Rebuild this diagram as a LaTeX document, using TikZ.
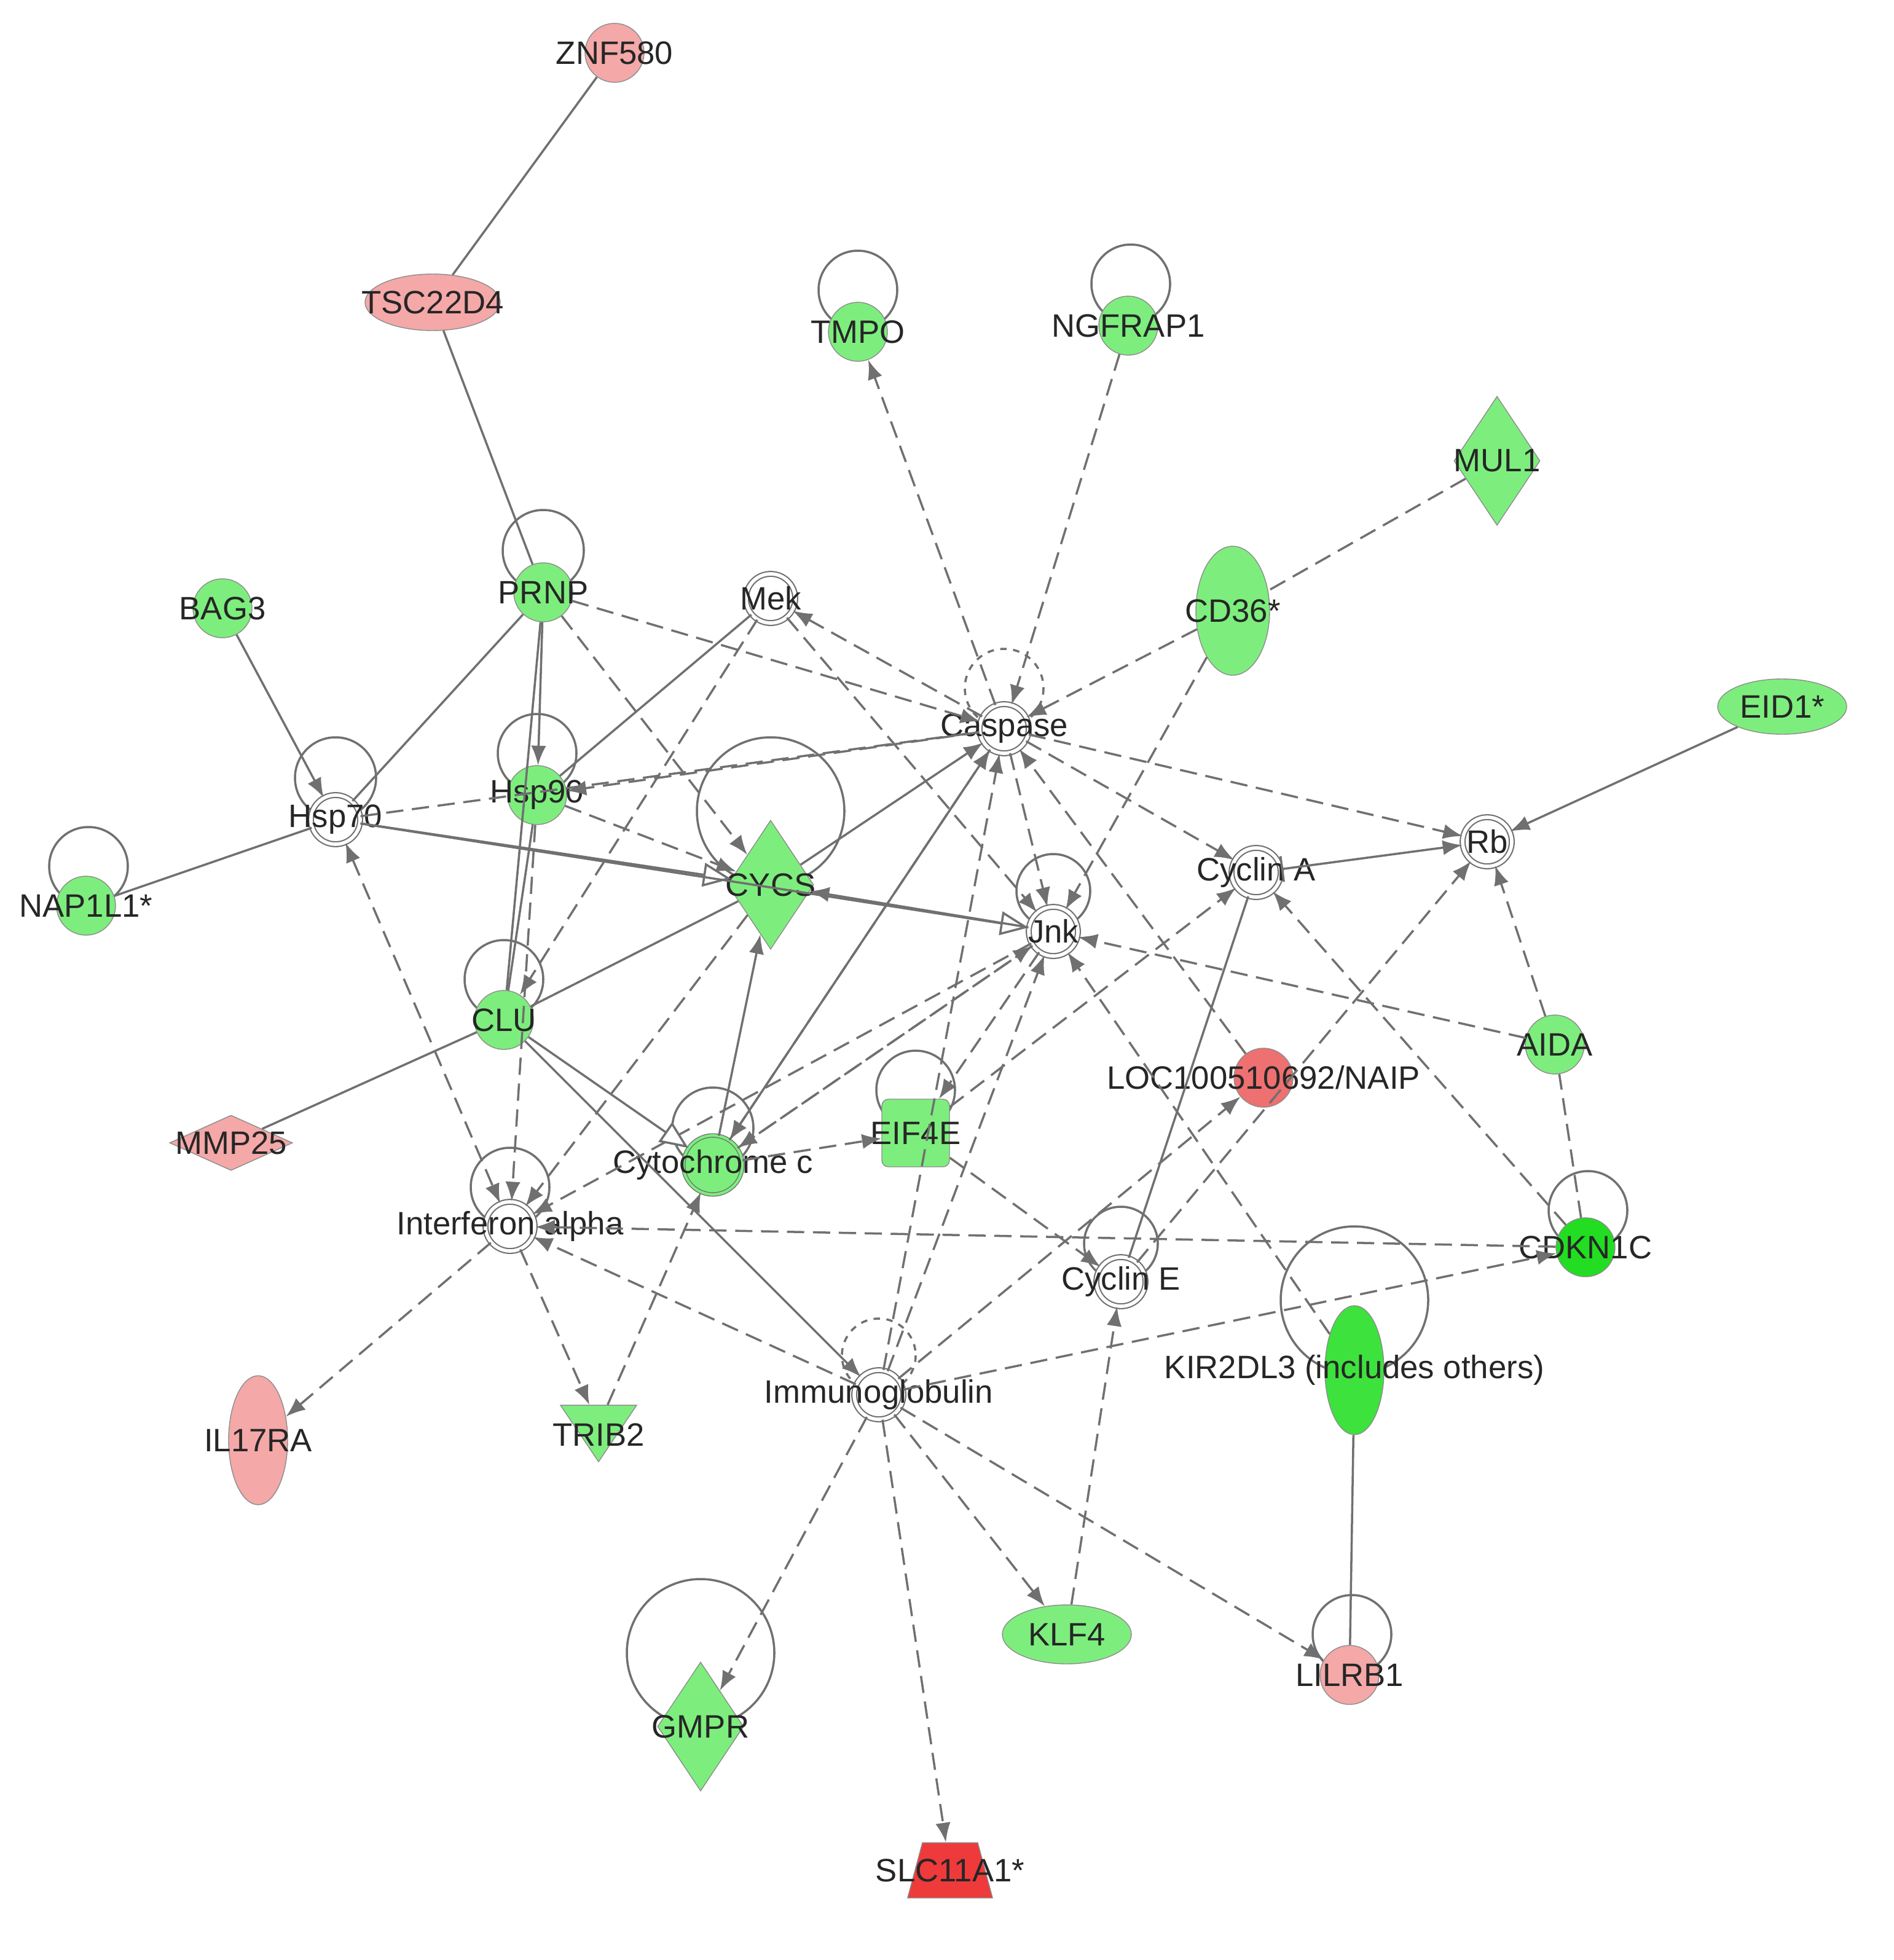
\documentclass[tikz,border=0pt]{standalone}
\usepackage{fontspec}
\setmainfont{Liberation Sans}
\usetikzlibrary{shapes.geometric,arrows.meta}
\definecolor{lg}{HTML}{7DEE7D}
\definecolor{bg}{HTML}{22DD22}
\definecolor{pk}{HTML}{F4A8A8}
\definecolor{rd}{HTML}{EE3A3A}
\definecolor{rs}{HTML}{EE7070}
\definecolor{ec}{HTML}{707070}
\tikzset{
 every node/.style={font=\fontsize{15}{17}\selectfont, text=black!85},
 gn/.style={circle,draw=ec!80,fill=lg,minimum size=0.96cm,inner sep=0pt},
 dc/.style={circle,draw=ec,double=white,double distance=1.6pt,fill=white,minimum size=0.8cm,inner sep=0pt,line width=0.6pt},
 dia/.style={diamond,draw=ec!80,inner sep=0pt,aspect=0.67},
 s/.style={draw=ec,line width=1pt},
 sa/.style={s,-{Latex[length=9pt,width=7pt]}},
 da/.style={s,dashed,dash pattern=on 8pt off 4pt,-{Latex[length=9pt,width=7pt]}},
 dl/.style={s,dashed,dash pattern=on 8pt off 4pt},
 oa/.style={s,-{Triangle[open,fill=white,length=13pt,width=11pt]}},
 lp/.style={draw=ec,line width=1pt},
}
\begin{document}
\begin{tikzpicture}[x=0.02cm,y=-0.02cm]
\useasboundingbox[fill=white] (0,0) rectangle (1540.5,1595);
% self loops
\foreach \x/\y/\r in {698/236/32,920/231/32,442/448/33,437/613/32,273/633/33,72/705/32,410/797/32,627/660/60,580/918/33,857/725/30,745/887/32,415/966/32,912/1012/30,1292/985/32,1102/1058/60,1100/1330/32,570/1345/60}
 \draw[lp] (\x,\y) circle (\r);
\draw[lp,dashed] (817,560) circle (32);
\draw[lp,dashed] (715,1103) circle (30);
% nodes
\node[gn,fill=pk,label=center:ZNF580] (znf) at (500,43) {};
\node[ellipse,draw=ec!80,fill=pk,minimum width=2.2cm,minimum height=0.92cm,label=center:TSC22D4] (tsc) at (352,246) {};
\node[gn,label=center:TMPO] (tmpo) at (698,270) {};
\node[gn,label=center:NGFRAP1] (ngf) at (918,265) {};
\node[dia,fill=lg,minimum width=1.4cm,minimum height=2.1cm,label=center:MUL1] (mul) at (1218,375) {};
\node[ellipse,draw=ec!80,fill=lg,minimum width=1.2cm,minimum height=2.1cm,label=center:CD36*] (cd36) at (1003,497) {};
\node[ellipse,draw=ec!80,fill=lg,minimum width=2.1cm,minimum height=0.9cm,label=center:EID1*] (eid) at (1450,575) {};
\node[gn,label=center:BAG3] (bag) at (181,495) {};
\node[gn,label=center:PRNP] (prnp) at (442,482) {};
\node[dc,label=center:Mek] (mek) at (627,487) {};
\node[dc,label=center:Caspase] (casp) at (817,593) {};
\node[dc,label=center:Hsp70] (h70) at (273,667) {};
\node[gn,label=center:Hsp90] (h90) at (437,647) {};
\node[dia,fill=lg,minimum width=1.4cm,minimum height=2.1cm,label=center:CYCS] (cycs) at (627,720) {};
\node[dc,label=center:Rb] (rb) at (1210,685) {};
\node[dc,label=center:Cyclin A] (cya) at (1022,710) {};
\node[dc,label=center:Jnk] (jnk) at (857,758) {};
\node[gn,label=center:NAP1L1*] (nap) at (70,737) {};
\node[gn,label=center:CLU] (clu) at (410,830) {};
\node[gn,label=center:AIDA] (aida) at (1265,850) {};
\node[gn,fill=rs,label=center:LOC100510692/NAIP] (loc) at (1028,877) {};
\node[dia,fill=pk,minimum width=2cm,minimum height=0.9cm,aspect=2.2,label=center:MMP25] (mmp) at (188,930) {};
\node[rectangle,rounded corners=3pt,draw=ec!80,fill=lg,minimum width=1.1cm,minimum height=1.1cm,label=center:EIF4E] (eif) at (745,922) {};
\node[gn,double=lg,draw=ec,double distance=1.2pt,label=center:Cytochrome c] (cytc) at (580,948) {};
\node[dc,label=center:Interferon alpha] (ifn) at (415,998) {};
\node[dc,label=center:Cyclin E] (cye) at (912,1043) {};
\node[gn,fill=bg,label=center:CDKN1C] (cdk) at (1290,1015) {};
\node[ellipse,draw=ec!80,fill=bg!70!lg,minimum width=0.96cm,minimum height=2.1cm,label=center:KIR2DL3 (includes others)] (kir) at (1102,1115) {};
\node[dc,label=center:Immunoglobulin] (ig) at (715,1135) {};
\node[ellipse,draw=ec!80,fill=pk,minimum width=0.96cm,minimum height=2.1cm,label=center:IL17RA] (il) at (210,1172) {};
\node[isosceles triangle,isosceles triangle stretches,shape border rotate=-90,draw=ec!80,fill=lg,minimum width=1.24cm,minimum height=0.92cm,inner sep=0pt,label={[yshift=-0.15cm]center:TRIB2}] (trib) at (487,1160) {};
\node[ellipse,draw=ec!80,fill=lg,minimum width=2.1cm,minimum height=0.96cm,label=center:KLF4] (klf) at (868,1330) {};
\node[gn,fill=pk,label=center:LILRB1] (lil) at (1098,1363) {};
\node[dia,fill=lg,minimum width=1.4cm,minimum height=2.1cm,label=center:GMPR] (gmpr) at (570,1405) {};
\node[trapezium,trapezium left angle=75,trapezium right angle=75,draw=ec!80,fill=rd,minimum width=1cm,minimum height=0.9cm,label=center:SLC11A1*] (slc) at (773,1522) {};
% edges
\draw[s] (znf)--(tsc);
\draw[s] (tsc)--(prnp);
\draw[sa] (bag)--(h70);
\draw[s] (nap)--(h70);
\draw[s] (prnp)--(h70);
\draw[sa] (prnp)--(h90);
\draw[s] (prnp)--(clu);
\draw[da] (prnp)--(casp);
\draw[da] (prnp)--(cycs);
\draw[s] (mek)--(h90);
\draw[da] (mek)--(clu);
\draw[da] (mek)--(jnk);
\draw[da] (casp)--(mek);
\draw[da] (casp)--(h90);
\draw[dl] (h70)--(casp);
\draw[oa] (h70)--(cycs);
\draw[oa] (h70)--(jnk);
\draw[da] (h90)--(cycs);
\draw[sa] (cycs)--(casp);
\draw[sa] (jnk)--(cycs);
\draw[da] (casp)--(jnk);
\draw[da] (casp)--(cya);
\draw[da] (casp)--(rb);
\draw[sa] (cytc)--(casp);
\draw[da] (ngf)--(casp);
\draw[da] (casp)--(tmpo);
\draw[da] (cd36)--(casp);
\draw[dl] (mul)--(cd36);
\draw[da] (cd36)--(jnk);
\draw[sa] (eid)--(rb);
\draw[s,{Bar[width=12pt]}-{Latex[length=9pt,width=7pt]}] (cya)--(rb);
\draw[da] (aida)--(rb);
\draw[da] (aida)--(jnk);
\draw[da] (cdk)--(cya);
\draw[dl] (cdk)--(aida);
\draw[da] (cdk)--(ifn);
\draw[da] (ig)--(cdk);
\draw[da] (cye)--(rb);
\draw[s] (cye)--(cya);
\draw[da] (ig)--(loc);
\draw[da] (loc)--(casp);
\draw[da] (kir)--(jnk);
\draw[s] (kir)--(lil);
\draw[da] (klf)--(cye);
\draw[da] (eif)--(cye);
\draw[da] (eif)--(cya);
\draw[da] (jnk)--(eif);
\draw[da] (cytc)--(eif);
\draw[da] (jnk)--(cytc);
\draw[da] (casp)--(cytc);
\draw[sa] (cytc)--(cycs);
\draw[da] (cycs)--(ifn);
\draw[da] (jnk)--(ifn);
\draw[s] (clu)--(cycs);
\draw[s] (clu)--(mmp);
\draw[sa] (clu)--(ig);
\draw[oa] (clu)--(cytc);
\draw[da] (h90)--(ifn);
\draw[s] (h90)--(clu);
\draw[da,{Latex[length=9pt,width=7pt]}-{Latex[length=9pt,width=7pt]}] (h70)--(ifn);
\draw[da] (ifn)--(il);
\draw[da] (ifn)--(trib);
\draw[da] (trib)--(cytc);
\draw[da] (ig)--(ifn);
\draw[da] (ig)--(casp);
\draw[da] (ig)--(jnk);
\draw[da] (ig)--(gmpr);
\draw[da] (ig)--(slc);
\draw[da] (ig)--(klf);
\draw[da] (ig)--(lil);
\draw[da] (cytc)--(jnk);
\end{tikzpicture}
\end{document}
